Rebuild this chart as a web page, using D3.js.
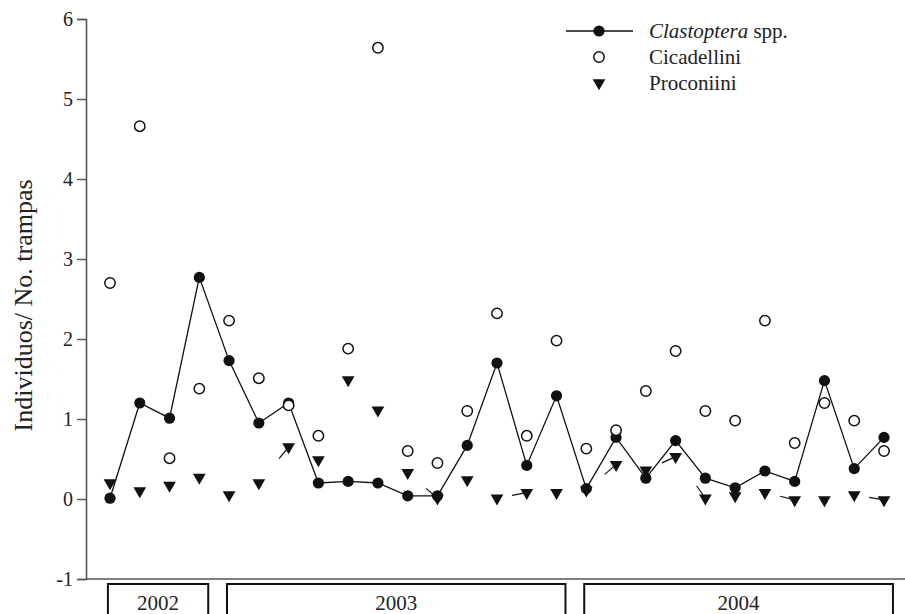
<!DOCTYPE html>
<html>
<head>
<meta charset="utf-8">
<script src="https://cdn.jsdelivr.net/npm/d3@7"></script>
<style>
  body { margin: 0; background: #fff; }
  svg { display: block; }
  svg text { font-family: "Liberation Serif", "Times New Roman", serif; fill: #222; }
</style>
</head>
<body>
<div id="chart"></div>
<script>
// sampling dates, 27 in all
var samples = d3.range(1, 28);

var clastoptera = [0.01, 1.20, 1.01, 2.77, 1.73, 0.95, 1.20, 0.20, 0.22, 0.20,
    0.04, 0.04, 0.67, 1.70, 0.42, 1.29, 0.13, 0.77, 0.26, 0.73,
    0.26, 0.14, 0.35, 0.22, 1.48, 0.38, 0.77];
var cicadellini = [2.70, 4.66, 0.51, 1.38, 2.23, 1.51, 1.17, 0.79, 1.88, 5.64,
    0.60, 0.45, 1.10, 2.32, 0.79, 1.98, 0.63, 0.86, 1.35, 1.85,
    1.10, 0.98, 2.23, 0.70, 1.20, 0.98, 0.60];
var proconiini = [0.20, 0.10, 0.17, 0.27, 0.05, 0.20, 0.65, 0.49, 1.49, 1.11,
    0.33, 0.01, 0.24, 0.01, 0.08, 0.08, 0.11, 0.43, 0.36, 0.53,
    0.01, 0.04, 0.08, -0.01, -0.01, 0.05, -0.01];
// samples where a stub of the Proconiini line shows next to the marker
var proconiiniStubs = [7, 12, 15, 18, 20, 21, 24, 27];

var yTicks = [-1, 0, 1, 2, 3, 4, 5, 6];
var years = ['2002', '2003', '2004'];
var yearFirst = [1, 5, 17];
var yearLast = [4, 16, 27];

var width = 905, height = 614;

var svg = d3.select('#chart').append('svg')
    .attr('width', width)
    .attr('height', height);

var x = d3.scaleLinear().domain([1, 27]).range([110, 884]);
var y = d3.scaleLinear().domain([-1, 6]).range([579, 19]);

// y axis, plain hyphen for the minus sign like the original
var yAxis = svg.append('g')
    .attr('transform', 'translate(86,0)')
    .call(d3.axisLeft(y).tickValues(yTicks).tickSize(9).tickPadding(4)
        .tickFormat(function (d) { return String(d); }));
yAxis.select('.domain').attr('stroke', '#555').attr('stroke-width', 1.6);
yAxis.selectAll('.tick line').attr('stroke', '#555').attr('stroke-width', 1.4);
yAxis.selectAll('.tick text')
    .attr('font-family', null)
    .attr('font-size', 20)
    .attr('fill', '#222');

// bottom axis line
svg.append('line')
    .attr('x1', 86).attr('x2', width)
    .attr('y1', y(-1)).attr('y2', y(-1))
    .attr('stroke', '#555')
    .attr('stroke-width', 1.6);

svg.append('text')
    .attr('transform', 'translate(32,' + y(2.42) + ') rotate(-90)')
    .attr('text-anchor', 'middle')
    .attr('font-size', 26)
    .text('Individuos/ No. trampas');

// year boxes under the axis
years.forEach(function (yr, i) {
    var x0 = x(yearFirst[i] - 0.07), x1 = x(yearLast[i] + 0.3);
    svg.append('rect')
        .attr('x', x0).attr('y', 584)
        .attr('width', x1 - x0).attr('height', 60)
        .attr('fill', 'none')
        .attr('stroke', '#111')
        .attr('stroke-width', 2);
    svg.append('text')
        .attr('x', (x0 + x1) / 2).attr('y', 610)
        .attr('text-anchor', 'middle')
        .attr('font-size', 21)
        .text(yr);
});

var plot = svg.append('g');
var tri = d3.symbol().type(d3.symbolTriangle).size(70);

// stubs of the Proconiini line
proconiiniStubs.forEach(function (s) {
    var i = s - 1;
    var px = x(samples[i]), py = y(proconiini[i]);
    var qx = x(samples[i - 1]), qy = y(proconiini[i - 1]);
    var len = Math.hypot(qx - px, qy - py);
    plot.append('line')
        .attr('x1', px).attr('y1', py)
        .attr('x2', px + (qx - px) * 15 / len)
        .attr('y2', py + (qy - py) * 15 / len)
        .attr('stroke', '#111')
        .attr('stroke-width', 1.2);
});

// Clastoptera line
plot.append('path')
    .datum(clastoptera)
    .attr('fill', 'none')
    .attr('stroke', '#111')
    .attr('stroke-width', 1.3)
    .attr('d', d3.line()
        .x(function (d, i) { return x(samples[i]); })
        .y(function (d) { return y(d); }));

plot.selectAll('path.proc')
    .data(proconiini)
    .enter().append('path')
    .attr('class', 'proc')
    .attr('d', tri)
    .attr('fill', '#111')
    .attr('transform', function (d, i) {
        return 'translate(' + x(samples[i]) + ',' + y(d) + ') rotate(180)';
    });

plot.selectAll('circle.clast')
    .data(clastoptera)
    .enter().append('circle')
    .attr('class', 'clast')
    .attr('cx', function (d, i) { return x(samples[i]); })
    .attr('cy', function (d) { return y(d); })
    .attr('r', 5.6)
    .attr('fill', '#111');

plot.selectAll('circle.cica')
    .data(cicadellini)
    .enter().append('circle')
    .attr('class', 'cica')
    .attr('cx', function (d, i) { return x(samples[i]); })
    .attr('cy', function (d) { return y(d); })
    .attr('r', 5.2)
    .attr('fill', '#fff')
    .attr('stroke', '#111')
    .attr('stroke-width', 1.5);

// legend
var legend = svg.append('g');
var rows = [31, 57, 83];
legend.append('line')
    .attr('x1', 566).attr('x2', 633)
    .attr('y1', rows[0]).attr('y2', rows[0])
    .attr('stroke', '#111').attr('stroke-width', 1.3);
legend.append('circle')
    .attr('cx', 599).attr('cy', rows[0]).attr('r', 5.6).attr('fill', '#111');
legend.append('circle')
    .attr('cx', 599).attr('cy', rows[1]).attr('r', 5.2)
    .attr('fill', '#fff').attr('stroke', '#111').attr('stroke-width', 1.5);
legend.append('path')
    .attr('d', tri)
    .attr('fill', '#111')
    .attr('transform', 'translate(599,' + rows[2] + ') rotate(180)');

var t0 = legend.append('text')
    .attr('x', 649).attr('y', rows[0] + 7)
    .attr('font-size', 21);
t0.append('tspan').attr('font-style', 'italic').text('Clastoptera');
t0.append('tspan').text(' spp.');
legend.append('text')
    .attr('x', 649).attr('y', rows[1] + 7)
    .attr('font-size', 21)
    .text('Cicadellini');
legend.append('text')
    .attr('x', 649).attr('y', rows[2] + 7)
    .attr('font-size', 21)
    .text('Proconiini');
</script>
</body>
</html>
